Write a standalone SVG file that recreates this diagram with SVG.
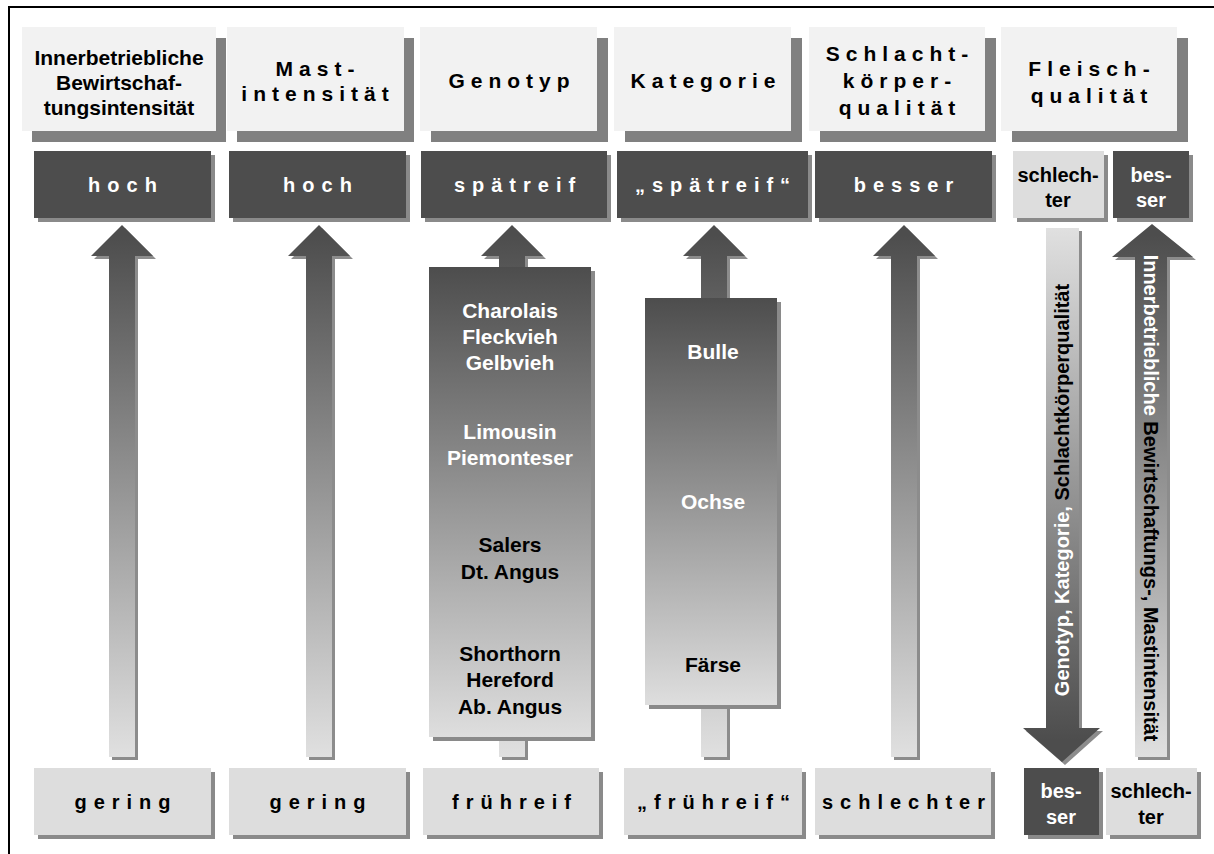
<svg xmlns="http://www.w3.org/2000/svg" width="1214" height="854" viewBox="0 0 1214 854">
<defs>
<style>
text{font-family:"Liberation Sans",Arial,sans-serif;font-weight:bold;text-anchor:middle}
.hdr{fill:#f2f2f2}
.hsh{fill:#808080}
.dark{fill:#4d4d4d}
.light{fill:#dddddd}
.bsh{fill:#8a8a8a}
.ash{fill:#8c8c8c}
.ht{font-size:21px;fill:#000}
.hts{font-size:21px;fill:#000;letter-spacing:6px}
.wt{font-size:20px;fill:#fff;letter-spacing:7px}
.bt{font-size:20px;fill:#000;letter-spacing:7px}
.sw{font-size:21px;fill:#fff}
.sb{font-size:21px;fill:#000}
.vt{font-size:20px;fill:#000}
.lw{font-size:20px;fill:#fff}
.lb{font-size:20px;fill:#000}
</style>
<linearGradient id="up" gradientUnits="userSpaceOnUse" x1="0" y1="235" x2="0" y2="757">
<stop offset="0" stop-color="#4d4d4d"/><stop offset="1" stop-color="#e0e0e0"/>
</linearGradient>
<linearGradient id="down" gradientUnits="userSpaceOnUse" x1="0" y1="228" x2="0" y2="740">
<stop offset="0" stop-color="#e0e0e0"/><stop offset="1" stop-color="#4d4d4d"/>
</linearGradient>
<linearGradient id="gbox" gradientUnits="userSpaceOnUse" x1="0" y1="267" x2="0" y2="737">
<stop offset="0" stop-color="#4d4d4d"/><stop offset="1" stop-color="#dedede"/>
</linearGradient>
<linearGradient id="kbox" gradientUnits="userSpaceOnUse" x1="0" y1="298" x2="0" y2="705">
<stop offset="0" stop-color="#4d4d4d"/><stop offset="1" stop-color="#dedede"/>
</linearGradient>
</defs>
<rect width="1214" height="854" fill="#fff"/>
<g id="frame" stroke="#000" stroke-width="2" fill="none">
<path d="M9,854 V7 H1214"/>
</g>

<g id="connectors">
<path class="ash" d="M125,228 L156,259 L138,259 L138,760 L112,760 L112,259 L94,259 Z"/>
<path fill="url(#up)" d="M122,225 L153,256 L135,256 L135,757 L109,757 L109,256 L91,256 Z"/>
<path class="ash" d="M322,228 L353,259 L335,259 L335,760 L309,760 L309,259 L291,259 Z"/>
<path fill="url(#up)" d="M319,225 L350,256 L332,256 L332,757 L306,757 L306,256 L288,256 Z"/>
<path class="ash" d="M515,228 L546,259 L528,259 L528,760 L502,760 L502,259 L484,259 Z"/>
<path fill="url(#up)" d="M512,225 L543,256 L525,256 L525,757 L499,757 L499,256 L481,256 Z"/>
<path class="ash" d="M717,228 L748,259 L730,259 L730,760 L704,760 L704,259 L686,259 Z"/>
<path fill="url(#up)" d="M714,225 L745,256 L727,256 L727,757 L701,757 L701,256 L683,256 Z"/>
<path class="ash" d="M907,228 L938,259 L920,259 L920,760 L894,760 L894,259 L876,259 Z"/>
<path fill="url(#up)" d="M904,225 L935,256 L917,256 L917,757 L891,757 L891,256 L873,256 Z"/>
<path class="ash" d="M1049,231 L1082,231 L1082,731 L1103,731 L1065,765 L1026,731 L1049,731 Z"/>
<path fill="url(#down)" d="M1046,228 L1079,228 L1079,728 L1100,728 L1062,762 L1023,728 L1046,728 Z"/>
<path class="ash" d="M1155,227 L1196,260 L1170,260 L1170,760 L1138,760 L1138,260 L1115,260 Z"/>
<path fill="url(#up)" d="M1152,224 L1193,257 L1167,257 L1167,757 L1135,757 L1135,257 L1112,257 Z"/>
<text transform="translate(1069,490) rotate(-90)" class="vt"><tspan fill="#fff">Genotyp, Kategorie, </tspan><tspan fill="#000">Schlachtkörperqualität</tspan></text>
<text transform="translate(1144,498) rotate(90)" class="vt"><tspan fill="#fff">Innerbetriebliche </tspan><tspan fill="#000">Bewirtschaftungs-, Mastintensität</tspan></text>
</g>

<g id="h1"><rect class="hsh" x="32" y="38" width="194" height="104"/><rect class="hdr" x="22" y="27" width="194" height="104"/>
<text class="ht" x="119" y="64.5">Innerbetriebliche</text><text class="ht" x="119" y="89.5">Bewirtschaf-</text><text class="ht" x="119" y="114.5">tungsintensität</text></g>
<g id="h2"><rect class="hsh" x="237" y="38" width="177" height="104"/><rect class="hdr" x="227" y="27" width="177" height="104"/>
<text class="hts" x="318" y="75.5">Mast-</text><text class="hts" x="318" y="100.5">intensität</text></g>
<g id="h3"><rect class="hsh" x="431" y="38" width="177" height="104"/><rect class="hdr" x="420" y="27" width="177" height="104"/>
<text class="hts" x="512" y="87.5">Genotyp</text></g>
<g id="h4"><rect class="hsh" x="625" y="38" width="177" height="104"/><rect class="hdr" x="614" y="27" width="177" height="104"/>
<text class="hts" x="706" y="87.5">Kategorie</text></g>
<g id="h5"><rect class="hsh" x="820" y="38" width="176" height="104"/><rect class="hdr" x="809" y="27" width="176" height="104"/>
<text class="hts" x="900" y="61">Schlacht-</text><text class="hts" x="900" y="88">körper-</text><text class="hts" x="900" y="115">qualität</text></g>
<g id="h6"><rect class="hsh" x="1012" y="38" width="176" height="104"/><rect class="hdr" x="1001" y="27" width="176" height="104"/>
<text class="hts" x="1092" y="75.5">Fleisch-</text><text class="hts" x="1092" y="102.5">qualität</text></g>

<g id="t1"><rect class="bsh" x="38" y="155" width="177" height="67"/><rect class="dark" x="34" y="151" width="177" height="67"/><text class="wt" x="126" y="192">hoch</text></g>
<g id="t2"><rect class="bsh" x="233" y="155" width="177" height="67"/><rect class="dark" x="229" y="151" width="177" height="67"/><text class="wt" x="321" y="192">hoch</text></g>
<g id="t3"><rect class="bsh" x="425" y="155" width="186" height="67"/><rect class="dark" x="421" y="151" width="186" height="67"/><text class="wt" x="518" y="192">spätreif</text></g>
<g id="t4"><rect class="bsh" x="621" y="155" width="191" height="67"/><rect class="dark" x="617" y="151" width="191" height="67"/><text class="wt" x="716" y="192">„spätreif“</text></g>
<g id="t5"><rect class="bsh" x="819" y="155" width="177" height="67"/><rect class="dark" x="815" y="151" width="177" height="67"/><text class="wt" x="907" y="192">besser</text></g>
<g id="t6a"><rect class="bsh" x="1017" y="155" width="91" height="67"/><rect class="light" x="1013" y="151" width="91" height="67"/><text class="lb" x="1058" y="182">schlech-</text><text class="lb" x="1058" y="207">ter</text></g>
<g id="t6b"><rect class="bsh" x="1117" y="155" width="76" height="67"/><rect class="dark" x="1113" y="151" width="76" height="67"/><text class="lw" x="1151" y="182">bes-</text><text class="lw" x="1151" y="207">ser</text></g>

<g id="genotyp"><rect class="bsh" x="433" y="271" width="162" height="470"/><rect fill="url(#gbox)" x="429" y="267" width="162" height="470"/>
<text class="sw" x="510" y="318">Charolais</text><text class="sw" x="510" y="344">Fleckvieh</text><text class="sw" x="510" y="370">Gelbvieh</text>
<text class="sw" x="510" y="439">Limousin</text><text class="sw" x="510" y="465">Piemonteser</text>
<text class="sb" x="510" y="552">Salers</text><text class="sb" x="510" y="579">Dt. Angus</text>
<text class="sb" x="510" y="661">Shorthorn</text><text class="sb" x="510" y="687">Hereford</text><text class="sb" x="510" y="714">Ab. Angus</text></g>
<g id="kategorie"><rect class="bsh" x="649" y="302" width="132" height="407"/><rect fill="url(#kbox)" x="645" y="298" width="132" height="407"/>
<text class="sw" x="713" y="359">Bulle</text><text class="sw" x="713" y="509">Ochse</text><text class="sb" x="713" y="672">Färse</text></g>

<g id="b1"><rect class="bsh" x="38" y="772" width="177" height="67"/><rect class="light" x="34" y="768" width="177" height="67"/><text class="bt" x="126" y="809">gering</text></g>
<g id="b2"><rect class="bsh" x="233" y="772" width="177" height="67"/><rect class="light" x="229" y="768" width="177" height="67"/><text class="bt" x="321" y="809">gering</text></g>
<g id="b3"><rect class="bsh" x="427" y="772" width="176" height="67"/><rect class="light" x="423" y="768" width="176" height="67"/><text class="bt" x="515" y="809">frühreif</text></g>
<g id="b4"><rect class="bsh" x="628" y="772" width="178" height="67"/><rect class="light" x="624" y="768" width="178" height="67"/><text class="bt" x="717" y="809">„frühreif“</text></g>
<g id="b5"><rect class="bsh" x="819" y="772" width="176" height="67"/><rect class="light" x="815" y="768" width="176" height="67"/><text class="bt" x="907" y="809">schlechter</text></g>
<g id="b6a"><rect class="bsh" x="1028" y="772" width="75" height="67"/><rect class="dark" x="1024" y="768" width="75" height="67"/><text class="lw" x="1061" y="798">bes-</text><text class="lw" x="1061" y="824">ser</text></g>
<g id="b6b"><rect class="bsh" x="1110" y="772" width="91" height="67"/><rect class="light" x="1106" y="768" width="91" height="67"/><text class="lb" x="1151" y="798">schlech-</text><text class="lb" x="1151" y="824">ter</text></g>
</svg>
